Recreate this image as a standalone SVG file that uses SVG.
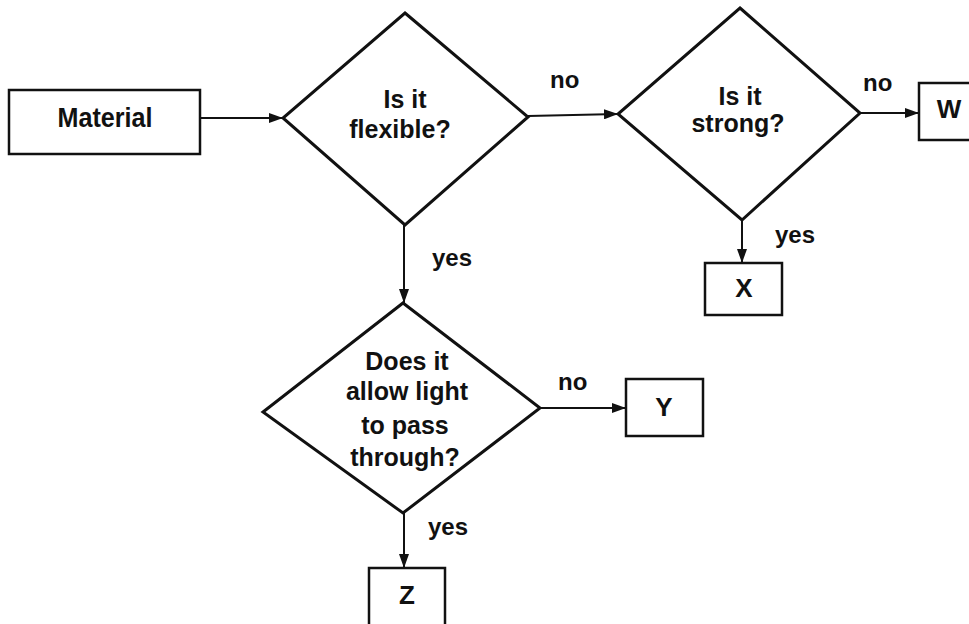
<svg xmlns="http://www.w3.org/2000/svg" width="969" height="624" viewBox="0 0 969 624">
  <style>
    .box { fill: #fff; stroke: #111; stroke-width: 2.5; }
    .dia { fill: #fff; stroke: #111; stroke-width: 3; stroke-linejoin: miter; }
    .lbl { font-family: "Liberation Sans", Arial, sans-serif; font-weight: bold; font-size: 25px; fill: #111; text-anchor: middle; }
    .big { font-size: 28px; }
    .let { font-size: 26px; }
    .edge { font-family: "Liberation Sans", Arial, sans-serif; font-weight: bold; font-size: 24px; fill: #111; }
    .conn { stroke: #111; stroke-width: 2; fill: none; marker-end: url(#arrow); }
  </style>
  <defs>
    <marker id="arrow" viewBox="0 0 14 10" refX="14" refY="5" markerWidth="14" markerHeight="10" markerUnits="userSpaceOnUse" orient="auto">
      <path d="M0,0 L14,5 L0,10 Z" fill="#111"/>
    </marker>
  </defs>
  <rect width="969" height="624" fill="#fff"/>

  <!-- connectors and their yes/no labels -->
  <g id="connectors">
    <line class="conn" x1="200" y1="118" x2="283" y2="118"/>
    <line class="conn" x1="528" y1="116" x2="618" y2="114"/>
    <line class="conn" x1="860" y1="113" x2="919" y2="113"/>
    <line class="conn" x1="742" y1="220" x2="742" y2="263"/>
    <line class="conn" x1="404" y1="225" x2="404" y2="303"/>
    <line class="conn" x1="540" y1="408" x2="626" y2="408"/>
    <line class="conn" x1="404" y1="513" x2="404" y2="568"/>
    <text class="edge" x="550" y="88">no</text>
    <text class="edge" x="863" y="91">no</text>
    <text class="edge" x="775" y="243">yes</text>
    <text class="edge" x="432" y="266">yes</text>
    <text class="edge" x="558" y="390">no</text>
    <text class="edge" x="428" y="535">yes</text>
  </g>

  <g id="material">
    <rect class="box" x="9" y="90" width="191" height="64"/>
    <text class="lbl big" x="105" y="127" textLength="95" lengthAdjust="spacingAndGlyphs">Material</text>
  </g>

  <g id="flexible">
    <polygon class="dia" points="405,13 528,117 405,225 283,118"/>
    <text class="lbl" x="405" y="108">Is it</text>
    <text class="lbl" x="400" y="138">flexible?</text>
  </g>

  <g id="strong">
    <polygon class="dia" points="740,8 860,113 742,220 618,114"/>
    <text class="lbl" x="740" y="105">Is it</text>
    <text class="lbl" x="738" y="132">strong?</text>
  </g>

  <g id="node-w">
    <rect class="box" x="919" y="83" width="60" height="57"/>
    <text class="lbl let" x="949" y="118">W</text>
  </g>

  <g id="node-x">
    <rect class="box" x="705" y="263" width="77" height="52"/>
    <text class="lbl let" x="744" y="297">X</text>
  </g>

  <g id="light">
    <polygon class="dia" points="403,303 540,408 403,513 263,412"/>
    <text class="lbl" x="407" y="370">Does it</text>
    <text class="lbl" x="407" y="400">allow light</text>
    <text class="lbl" x="405" y="434">to pass</text>
    <text class="lbl" x="405" y="466">through?</text>
  </g>

  <g id="node-y">
    <rect class="box" x="626" y="379" width="77" height="57"/>
    <text class="lbl let" x="664" y="416">Y</text>
  </g>

  <g id="node-z">
    <rect class="box" x="369" y="568" width="76" height="64"/>
    <text class="lbl let" x="407" y="604">Z</text>
  </g>
</svg>
